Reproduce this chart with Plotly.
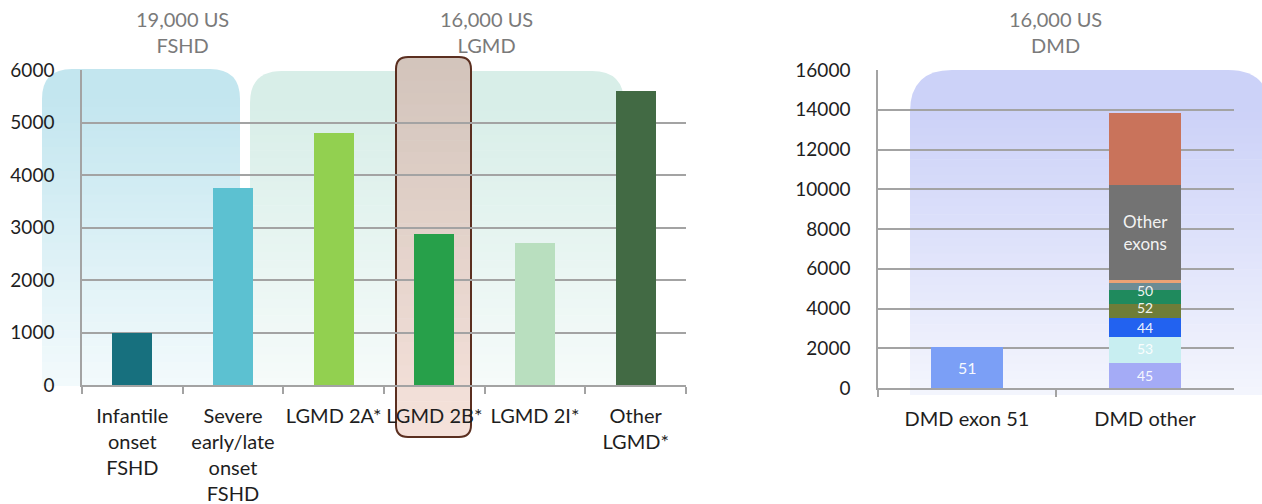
import numpy as np
import plotly.graph_objects as go

# ---------------- data ----------------
left_categories = ["Infantile<br>onset<br>FSHD", "Severe<br>early/late<br>onset<br>FSHD",
                   "LGMD 2A*", "LGMD 2B*", "LGMD 2I*", "Other<br>LGMD*"]
left_values = [1000, 3750, 4800, 2880, 2700, 5600]
left_colors = ["#17707e", "#5cc1d1", "#92d050", "#27a04a", "#b9dfbf", "#426a44"]

right_categories = ["DMD exon 51", "DMD other"]
exon51_value = [2080]
exon51_label = "51"
other_segment_labels = ["45", "53", "44", "52", "50", "", "", "Other<br>exons", ""]
other_segment_values = [1270, 1280, 970, 730, 700, 330, 150, 4780, 3640]
other_segment_colors = ["#a4abf6", "#c8eef1", "#2262f0", "#6e7d38", "#1f8a5d",
                        "#6d8c94", "#eba275", "#737373", "#c9735b"]

titles = ["19,000 US<br>FSHD", "16,000 US<br>LGMD", "16,000 US<br>DMD"]
left_yticks = [0, 1000, 2000, 3000, 4000, 5000, 6000]
right_yticks = [0, 2000, 4000, 6000, 8000, 10000, 12000, 14000, 16000]

# ---------------- layout helpers ----------------
W, H = 1262, 504
FONT = "Lato, 'Open Sans', sans-serif"


def px(x):
    return x / W


def py(y):
    return 1 - y / H


def hexrgb(h):
    h = h.lstrip("#")
    return tuple(int(h[i:i + 2], 16) for i in (0, 2, 4))


def mix(c1, c2, t):
    a, b = hexrgb(c1), hexrgb(c2)
    return "rgb(%d,%d,%d)" % tuple(round(a[i] + (b[i] - a[i]) * t) for i in range(3))


def path_from(points):
    out = []
    for cmd, pts in points:
        out.append(cmd + " ".join("%.5f,%.5f" % (px(x), py(y)) for x, y in pts))
    return " ".join(out) + " Z"


def gradient_rounded(x0, x1, y0, y1, r, ctop, cbot, n=36, round_bottom=False, layer="below"):
    shapes = []
    shapes.append(dict(type="path", xref="paper", yref="paper", layer=layer,
                       path=path_from([("M", [(x0, y0 + r)]), ("Q", [(x0, y0), (x0 + r, y0)]),
                                       ("L", [(x1 - r, y0)]), ("Q", [(x1, y0), (x1, y0 + r)]),
                                       ("L", [(x1, y0 + r + 0.6)]), ("L", [(x0, y0 + r + 0.6)])]),
                       fillcolor=mix(ctop, cbot, 0), line=dict(width=0)))
    ys = y0 + r
    ye = y1 - r if round_bottom else y1
    step = (ye - ys) / n
    for i in range(n):
        a = ys + i * step
        b = min(a + step + 0.6, ye + 0.6 if round_bottom else ye)
        t = (i + 0.5) / n
        shapes.append(dict(type="rect", xref="paper", yref="paper", layer=layer,
                           x0=px(x0), x1=px(x1), y0=py(a), y1=py(b),
                           fillcolor=mix(ctop, cbot, t), line=dict(width=0)))
    if round_bottom:
        shapes.append(dict(type="path", xref="paper", yref="paper", layer=layer,
                           path=path_from([("M", [(x0, ye)]), ("L", [(x1, ye)]),
                                           ("L", [(x1, y1 - r)]), ("Q", [(x1, y1), (x1 - r, y1)]),
                                           ("L", [(x0 + r, y1)]), ("Q", [(x0, y1), (x0, y1 - r)])]),
                           fillcolor=mix(ctop, cbot, 1), line=dict(width=0)))
    return shapes


def rounded_outline(x0, x1, y0, y1, r, color, width, layer):
    return dict(type="path", xref="paper", yref="paper", layer=layer,
                path=path_from([("M", [(x0 + r, y0)]), ("L", [(x1 - r, y0)]),
                                ("Q", [(x1, y0), (x1, y0 + r)]), ("L", [(x1, y1 - r)]),
                                ("Q", [(x1, y1), (x1 - r, y1)]), ("L", [(x0 + r, y1)]),
                                ("Q", [(x0, y1), (x0, y1 - r)]), ("L", [(x0, y0 + r)]),
                                ("Q", [(x0, y0), (x0 + r, y0)])]),
                fillcolor="rgba(0,0,0,0)", line=dict(color=color, width=width))


# ---------------- figure ----------------
fig = go.Figure()

fig.add_trace(go.Bar(x=left_categories, y=left_values, marker=dict(color=left_colors, line=dict(width=0)),
                     width=0.4, xaxis="x", yaxis="y", showlegend=False, hoverinfo="x+y"))

fig.add_trace(go.Bar(x=[right_categories[0]], y=exon51_value,
                     marker=dict(color="#7b9ff6", line=dict(width=0)), width=0.4,
                     xaxis="x2", yaxis="y2", showlegend=False))

for val, col in zip(other_segment_values, other_segment_colors):
    fig.add_trace(go.Bar(x=[right_categories[1]], y=[val],
                         marker=dict(color=col, line=dict(width=0)), width=0.4,
                         xaxis="x2", yaxis="y2", showlegend=False))

grid_col = "#a3a3a3"
axis_common = dict(showgrid=False, showline=True, linecolor=grid_col, linewidth=1.5,
                   ticks="outside", tickson="boundaries", ticklen=7, tickcolor=grid_col, tickwidth=1.5,
                   tickangle=0, ticklabelstandoff=12, automargin=False,
                   tickfont=dict(family=FONT, size=20, color="#1e1e1e"), fixedrange=True)
yaxis_common = dict(showgrid=True, gridcolor=grid_col, gridwidth=1.5, showline=True,
                    linecolor=grid_col, linewidth=1.5, zeroline=False, ticks="",
                    ticklabelstandoff=22, tickformat="d", automargin=False,
                    tickfont=dict(family=FONT, size=19, color="#1e1e1e"), fixedrange=True)

shapes = []
shapes += gradient_rounded(42, 240, 69, 386, 30, "#c3e6ef", "#f3fafc")
shapes += gradient_rounded(250, 624, 71, 386, 32, "#d8eee8", "#f6fbfa")
shapes += gradient_rounded(910, 1270, 70, 395, 42, "#ccd2f8", "#f4f5fd")
shapes += gradient_rounded(396, 471, 57, 437, 12, "#d3c5bc", "#f5e1da", n=30,
                           round_bottom=True, layer="between")
shapes.append(rounded_outline(396, 471, 57, 437, 12, "#5b2f20", 2, "between"))

annotations = []
for t, cx in zip(titles, [183, 486, 1055]):
    annotations.append(dict(text=t, x=px(cx), y=py(31.5), xref="paper", yref="paper",
                            xanchor="center", yanchor="middle", showarrow=False,
                            font=dict(family=FONT, size=20, color="#7a7a7a")))

# segment labels placed at the middle of each stacked segment (data coordinates)
annotations.append(dict(text=exon51_label, x=right_categories[0], y=exon51_value[0] / 2,
                        xref="x2", yref="y2", showarrow=False,
                        font=dict(family=FONT, size=16, color="rgba(255,255,255,0.95)")))
tops = np.cumsum(other_segment_values)
mids = tops - np.array(other_segment_values) / 2
label_shift = {"50": 6, "52": 3, "44": 0, "53": 2}
for lab, mid in zip(other_segment_labels, mids):
    if not lab:
        continue
    annotations.append(dict(text=lab, x=right_categories[1], y=float(mid), xref="x2", yref="y2",
                            showarrow=False, yshift=label_shift.get(lab, 0),
                            font=dict(family=FONT, size=17 if "<br>" in lab else 14,
                                      color="rgba(255,255,255,0.93)")))

fig.update_layout(
    width=W, height=H, autosize=False,
    margin=dict(l=0, r=0, t=0, b=0, autoexpand=False),
    paper_bgcolor="white", plot_bgcolor="rgba(0,0,0,0)",
    barmode="stack", bargap=0.6,
    xaxis=dict(domain=[px(82), px(686)], anchor="y", **axis_common),
    yaxis=dict(domain=[py(385), py(70)], anchor="x", range=[0, 6000],
               tickvals=left_yticks, **yaxis_common),
    xaxis2=dict(domain=[px(878), px(1234)], anchor="y2", **axis_common),
    yaxis2=dict(domain=[py(388), py(70)], anchor="x2", range=[0, 16000],
                tickvals=right_yticks, **yaxis_common),
    shapes=shapes, annotations=annotations,
    font=dict(family=FONT),
)

fig.write_html("out.html")
